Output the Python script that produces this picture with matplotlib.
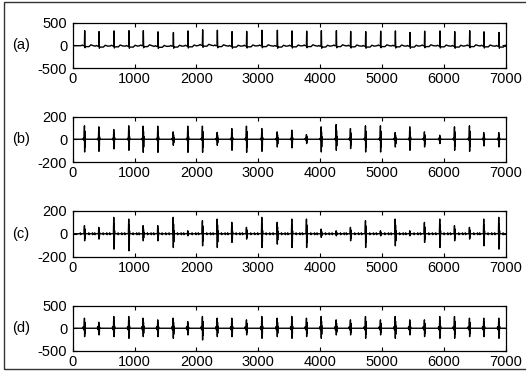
import matplotlib
matplotlib.use("Agg")
import matplotlib.pyplot as plt
from matplotlib.patches import Rectangle
import numpy as np

# ---- data ----
beats = [194, 426, 668, 910, 1142, 1379, 1628, 1864, 2101, 2339, 2576, 2813, 3061,
         3309, 3546, 3783, 4020, 4263, 4494, 4737, 4979, 5217, 5453, 5690, 5938,
         6176, 6418, 6649, 6892]

# (a) raw ECG: R-peak heights and local baseline
a_r = [330, 320, 330, 340, 330, 320, 300, 330, 340, 340, 320, 320, 340, 350, 330,
       320, 340, 330, 320, 320, 320, 330, 300, 320, 330, 320, 330, 310, 300]
a_base = [-10, -20, -15, -20, -10, -25, -20, -15, 0, -10, -20, -15, -10, -20, -15,
          -10, -20, -10, -15, -20, -10, -15, -20, -10, -15, -20, -10, -15, -20]

# (b) detail signal: up / down excursions
b_up = [118, 109, 85, 118, 115, 115, 65, 115, 115, 60, 94, 115, 94, 65, 80,
        41, 109, 129, 94, 118, 118, 59, 109, 65, 35, 109, 118, 59, 59]
b_dn = [112, 106, 85, 97, 115, 115, 53, 115, 115, 53, 97, 115, 106, 68, 76,
        38, 112, 97, 82, 112, 112, 68, 97, 68, 38, 97, 106, 59, 68]

# (c) detail signal: up / down excursions
c_up = [71, 56, 144, 129, 71, 71, 144, 26, 115, 129, 100, 56, 144, 100, 129,
        129, 41, 26, 56, 115, 26, 129, 26, 100, 129, 71, 56, 129, 144]
c_dn = [62, 47, 135, 150, 62, 62, 121, 18, 106, 121, 76, 47, 121, 91, 121,
        121, 32, 18, 62, 121, 18, 106, 18, 76, 121, 62, 47, 106, 135]

# (d) reconstructed signal: up / down excursions
d_up = [221, 132, 258, 258, 221, 184, 221, 147, 258, 221, 221, 184, 258, 221, 258,
        221, 258, 184, 184, 258, 184, 258, 184, 184, 258, 258, 221, 221, 221]
d_dn = [184, 147, 184, 221, 184, 184, 221, 147, 258, 184, 184, 147, 221, 184, 221,
        184, 221, 147, 147, 221, 147, 221, 147, 184, 221, 221, 184, 184, 221]

labels = ["(a)", "(b)", "(c)", "(d)"]
ylims = [(-500, 500), (-200, 200), (-200, 200), (-500, 500)]
yticks = [[-500, 0, 500], [-200, 0, 200], [-200, 0, 200], [-500, 0, 500]]
xticks = [0, 1000, 2000, 3000, 4000, 5000, 6000, 7000]


def ecg_trace(beats, r, base):
    xs, ys = [0], [base[0]]
    for t, h, b in zip(beats, r, base):
        for dx, dy in [(-60, 0), (-40, 15), (-25, 0), (-5, 0), (0, h), (5, -45),
                       (12, -20), (70, -20), (100, 20), (140, 0)]:
            xs.append(t + dx)
            ys.append(b + (dy if dx != 0 else h))
    xs.append(7000)
    ys.append(base[-1])
    return xs, ys


def burst_trace(beats, up, dn, small=0.0, blob=0.0):
    xs, ys = [0], [0]
    for t, u, d in zip(beats, up, dn):
        if small:
            for dx, dy in [(-80, 0), (-70, small), (-65, -small), (-60, 0)]:
                xs.append(t + dx); ys.append(dy)
        if blob:
            for dx, dy in [(-30, 0), (-22, blob), (-16, -blob), (-12, 0)]:
                xs.append(t + dx); ys.append(dy)
        for dx, f in [(-10, 0), (-4, u), (-1, -d), (2, 0.6 * u), (5, -0.6 * d),
                      (8, 0.2 * u), (12, 0)]:
            xs.append(t + dx); ys.append(f)
        if small:
            for dx, dy in [(60, 0), (66, small), (70, -small), (75, 0),
                           (120, 0), (125, small), (130, -small), (136, 0)]:
                xs.append(t + dx); ys.append(dy)
    xs.append(7000); ys.append(0)
    return xs, ys


traces = [ecg_trace(beats, a_r, a_base),
          burst_trace(beats, b_up, b_dn, blob=8),
          burst_trace(beats, c_up, c_dn, small=8),
          burst_trace(beats, d_up, d_dn, blob=35)]

plt.rcParams['font.family'] = ['Liberation Sans Narrow', 'Liberation Sans', 'DejaVu Sans']
plt.rcParams['axes.unicode_minus'] = False

W, H = 526, 381
fig = plt.figure(figsize=(W / 100, H / 100), dpi=100)

tops = [22.5, 116.5, 211.0, 305.5]
ax_h = 45.5
left, right = 72.7, 505.7

for i, (xs, ys) in enumerate(traces):
    top = tops[i]
    ax = fig.add_axes([left / W, (H - top - ax_h) / H, (right - left) / W, ax_h / H])
    ax.plot(xs, ys, color='black', lw=1.0)
    ax.set_xlim(0, 7000)
    ax.set_ylim(*ylims[i])
    ax.set_xticks(xticks)
    ax.set_yticks(yticks[i])
    ax.tick_params(direction='in', length=3, width=0.8, labelsize=10.5,
                   top=True, right=True, pad=3)
    ax.tick_params(axis='y', pad=4)
    for sp in ax.spines.values():
        sp.set_linewidth(0.9)
    fig.text(12 / W, 1 - (top + ax_h / 2) / H, labels[i], fontsize=10.5,
             family=['Liberation Sans', 'DejaVu Sans'], ha='left', va='center')

fig.patches.append(Rectangle((4 / W, (H - 369) / H), 1.2, (369 - 2) / H,
                             transform=fig.transFigure, fill=False,
                             edgecolor='#333333', lw=1.0))

fig.savefig("out.png", dpi=100)
